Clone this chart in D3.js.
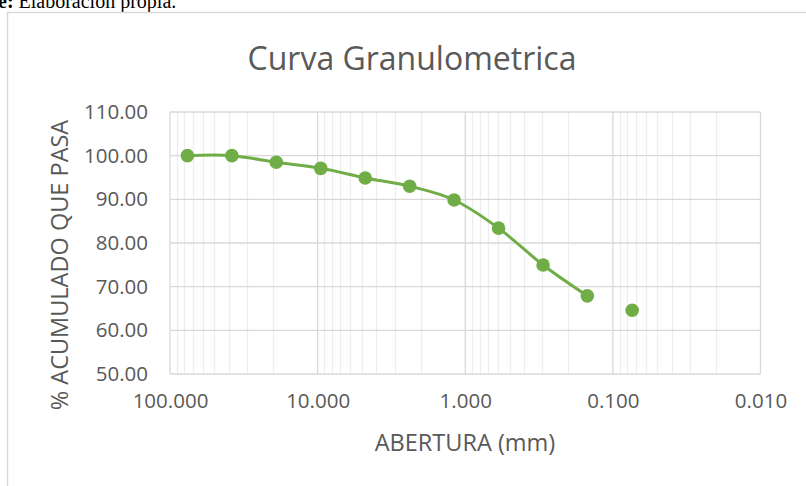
<!DOCTYPE html>
<html>
<head>
<meta charset="utf-8">
<script src="https://cdn.jsdelivr.net/npm/d3@7"></script>
<style>
  body { margin: 0; background: #fff; }
  svg { display: block; }
</style>
</head>
<body>
<script>
// Datos de la curva granulometrica
var aberturas = [76.2, 38.1, 19.05, 9.525, 4.76, 2.38, 1.19, 0.595, 0.297, 0.149, 0.074];
var pasa = [100.00, 100.00, 98.48, 97.10, 94.90, 93.00, 89.85, 83.40, 74.97, 67.90, 64.60];
var puntosConLinea = 10; // el ultimo punto va sin linea
var xTicks = [100, 10, 1, 0.1, 0.01];
var yTicks = [50, 60, 70, 80, 90, 100, 110];

var W = 806, H = 486;
var font = "'Open Sans', sans-serif";
var gris = "#595959";
var verde = "#70AD47";

var svg = d3.select("body").append("svg")
    .attr("width", W)
    .attr("height", H);

// texto cortado arriba (pie de la figura anterior)
var fuente = svg.append("text")
    .attr("x", -52)
    .attr("y", 8)
    .style("font-family", "'Liberation Serif', 'Times New Roman', serif")
    .style("font-size", "20px")
    .attr("fill", "#000");
fuente.append("tspan").style("font-weight", "bold").text("Fuente:");
fuente.append("tspan").text(" Elaboración propia.");

// borde del area del grafico
svg.append("path")
    .attr("d", "M7.5," + H + "V12.5H" + W)
    .attr("fill", "none")
    .attr("stroke", "#D9D9D9")
    .attr("stroke-width", 1.5);

var x = d3.scaleLog().domain([100, 0.01]).range([170, 760.5]);
var y = d3.scaleLinear().domain([50, 110]).range([374, 112]);

// lineas de division menores
svg.append("g")
    .selectAll("line")
    .data(x.ticks().filter(function (d) { return xTicks.indexOf(+d.toPrecision(6)) < 0; }))
    .join("line")
    .attr("x1", function (d) { return Math.round(x(d)) + 0.5; })
    .attr("x2", function (d) { return Math.round(x(d)) + 0.5; })
    .attr("y1", y(110))
    .attr("y2", y(50))
    .attr("stroke", "#EDEDED")
    .attr("stroke-width", 1.3);

// lineas de division principales
svg.append("g")
    .selectAll("line")
    .data(yTicks)
    .join("line")
    .attr("x1", x(100))
    .attr("x2", x(0.01))
    .attr("y1", function (d) { return y(d); })
    .attr("y2", function (d) { return y(d); })
    .attr("stroke", "#D9D9D9")
    .attr("stroke-width", 1.3);

svg.append("g")
    .selectAll("line")
    .data(xTicks)
    .join("line")
    .attr("x1", function (d) { return x(d); })
    .attr("x2", function (d) { return x(d); })
    .attr("y1", y(110))
    .attr("y2", y(50))
    .attr("stroke", "#D9D9D9")
    .attr("stroke-width", 1.3);

// ejes
var ejeX = svg.append("g")
    .attr("transform", "translate(0," + y(50) + ")")
    .call(d3.axisBottom(x).tickValues(xTicks).tickFormat(d3.format(".3f")).tickSize(0).tickPadding(19));
var ejeY = svg.append("g")
    .attr("transform", "translate(" + x(100) + ",0)")
    .call(d3.axisLeft(y).tickValues(yTicks).tickFormat(d3.format(".2f")).tickSize(0).tickPadding(22));
[ejeX, ejeY].forEach(function (g) {
    g.select(".domain").remove();
    g.selectAll("text")
        .style("font-family", font)
        .style("font-size", "20.5px")
        .attr("fill", gris);
});

// curva suavizada
var linea = d3.line()
    .x(function (d, i) { return x(aberturas[i]); })
    .y(function (d) { return y(d); })
    .curve(d3.curveCatmullRom.alpha(0));

svg.append("path")
    .datum(pasa.slice(0, puntosConLinea))
    .attr("fill", "none")
    .attr("stroke", verde)
    .attr("stroke-width", 3)
    .attr("stroke-linejoin", "round")
    .attr("d", linea);

svg.append("g")
    .selectAll("circle")
    .data(pasa)
    .join("circle")
    .attr("cx", function (d, i) { return x(aberturas[i]); })
    .attr("cy", function (d) { return y(d); })
    .attr("r", 6.8)
    .attr("fill", verde);

// titulos
svg.append("text")
    .attr("x", 412)
    .attr("y", 70)
    .attr("text-anchor", "middle")
    .style("font-family", font)
    .style("font-size", "32px")
    .attr("fill", gris)
    .text("Curva Granulometrica");

svg.append("text")
    .attr("x", 465)
    .attr("y", 451)
    .attr("text-anchor", "middle")
    .style("font-family", font)
    .style("font-size", "23.5px")
    .attr("fill", gris)
    .text("ABERTURA (mm)");

svg.append("text")
    .attr("transform", "translate(68,265) rotate(-90)")
    .attr("text-anchor", "middle")
    .style("font-family", font)
    .style("font-size", "23.5px")
    .attr("fill", gris)
    .text("% ACUMULADO QUE PASA");
</script>
</body>
</html>
